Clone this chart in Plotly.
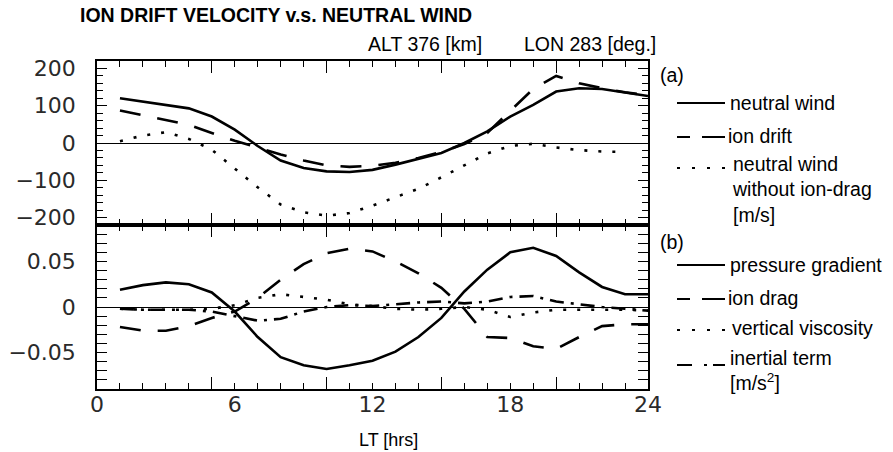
import plotly.graph_objects as go

# ---------------- data ----------------
lt_hours = list(range(1, 25))
lt_hours_nodrag = list(range(1, 24))

neutral_wind = [120, 111, 104, 93, 71, 36, -8, -47, -67, -76, -78, -72, -58, -43, -27, 0, 31, 71, 102, 138, 147, 145, 135, 126]
ion_drift = [87, 75, 62, 49, 27, 6, -12, -31, -47, -60, -64, -61, -53, -40, -24, -3, 27, 85, 145, 180, 160, 147, 136, 128]
wind_no_drag = [5, 20, 29, 11, -18, -69, -119, -165, -186, -195, -188, -168, -145, -123, -92, -60, -28, -8, -2, -12, -19, -23, -24]

pressure_gradient = [0.019, 0.024, 0.027, 0.025, 0.016, -0.005, -0.033, -0.055, -0.064, -0.068, -0.064, -0.059, -0.049, -0.033, -0.012, 0.017, 0.041, 0.060, 0.065, 0.056, 0.038, 0.022, 0.014, 0.014]
ion_drag = [-0.022, -0.026, -0.026, -0.021, -0.012, -0.005, 0.010, 0.030, 0.047, 0.059, 0.064, 0.061, 0.050, 0.037, 0.021, -0.002, -0.033, -0.034, -0.043, -0.046, -0.033, -0.021, -0.019, -0.019]
vertical_viscosity = [-0.002, -0.003, -0.003, -0.003, -0.002, 0.002, 0.010, 0.014, 0.011, 0.008, 0.003, 0.001, -0.002, -0.003, -0.002, 0.000, -0.003, -0.011, -0.006, -0.003, -0.003, -0.003, -0.003, -0.004]
inertial_term = [-0.002, -0.003, -0.003, -0.003, -0.005, -0.010, -0.015, -0.013, -0.005, 0.000, 0.002, 0.001, 0.003, 0.005, 0.006, 0.004, 0.006, 0.011, 0.012, 0.006, 0.003, 0.000, -0.002, -0.004]

x_tick_vals = [0, 6, 12, 18, 24]
x_tick_text = ["0", "6", "12", "18", "24"]
x_long_ticks = [5, 10, 15, 20]

title_text = "ION DRIFT VELOCITY v.s. NEUTRAL WIND"
alt_text = "ALT 376 [km]"
lon_text = "LON 283 [deg.]"
x_title = "LT [hrs]"

# ---------------- layout geometry ----------------
W, H = 893, 452
PL, PR, PT, PB = 97, 648, 61, 389


def px(x):
    return (x - PL) / (PR - PL)


def py(y):
    return (PB - y) / (PB - PT)


SOLID = "solid"
DASH = "21px,17px"
DOT = "3px,11px"
DASHDOT = "14px,7px,3px,7px"
LW = 2.6

fig = go.Figure()


def add(x, y, dash, xa, ya):
    fig.add_trace(go.Scatter(x=x, y=y, mode="lines", xaxis=xa, yaxis=ya,
                             line=dict(color="black", width=LW, dash=dash),
                             showlegend=False, hoverinfo="skip"))


add(lt_hours, neutral_wind, SOLID, "x", "y")
add(lt_hours, ion_drift, DASH, "x", "y")
add(lt_hours_nodrag, wind_no_drag, DOT, "x", "y")

add(lt_hours, pressure_gradient, SOLID, "x2", "y2")
add(lt_hours, ion_drag, DASH, "x2", "y2")
add(lt_hours, vertical_viscosity, DOT, "x2", "y2")
add(lt_hours, inertial_term, DASHDOT, "x2", "y2")

# invisible trace that hosts the tick-label axis of the lower panel
fig.add_trace(go.Scatter(x=[None], y=[None], xaxis="x3", yaxis="y2", showlegend=False, hoverinfo="skip"))

tickfont = dict(family="DejaVu Sans", size=22, color="#2a2a2a")

minor_x = dict(tick0=0, dtick=1, ticklen=6, tickwidth=1.2, tickcolor="black", ticks="inside")
xcommon = dict(range=[0, 24], showgrid=False, zeroline=False, showline=True, linecolor="black",
               linewidth=1.5, mirror="allticks", ticks="inside", tickvals=x_long_ticks,
               ticklen=12, tickwidth=1.2, tickcolor="black", showticklabels=False,
               minor=minor_x)

fig.update_layout(
    template="none",
    width=W, height=H,
    margin=dict(l=PL, r=W - PR, t=PT, b=H - PB, pad=0),
    paper_bgcolor="white", plot_bgcolor="white",
    showlegend=False,
    xaxis=dict(domain=[0, 1], anchor="y", **xcommon),
    xaxis2=dict(domain=[0, 1], anchor="y2", **xcommon),
    xaxis3=dict(domain=[0, 1], anchor="y2", overlaying="x2", range=[0, 24], showgrid=False,
                zeroline=False, showline=False, ticks="", tickvals=x_tick_vals,
                ticktext=x_tick_text, tickfont=tickfont, side="bottom"),
    yaxis=dict(domain=[0.5, 1], anchor="x", range=[-220, 220], showgrid=False,
               zeroline=True, zerolinecolor="black", zerolinewidth=1,
               showline=True, linecolor="black", linewidth=1.5, mirror="allticks",
               ticks="inside", dtick=100, ticklen=10,
               tickwidth=1.2, tickcolor="black", tickfont=tickfont, ticklabelstandoff=15,
               minor=dict(dtick=20, ticklen=6, tickwidth=1.2, tickcolor="black", ticks="inside")),
    yaxis2=dict(domain=[0, 0.5], anchor="x2", range=[-0.09, 0.09], showgrid=False,
                zeroline=True, zerolinecolor="black", zerolinewidth=1,
                showline=True, linecolor="black", linewidth=1.5, mirror="allticks",
                ticks="inside", dtick=0.05, ticklen=10,
                tickwidth=1.2, tickcolor="black", tickfont=tickfont, ticklabelstandoff=15,
                minor=dict(dtick=0.01, ticklen=6, tickwidth=1.2, tickcolor="black", ticks="inside")),
)

textfont = dict(family="Liberation Sans", size=19.5, color="black")
shapes = []
annotations = []


def legend_line(x0, x1, y, dash):
    shapes.append(dict(type="line", xref="paper", yref="paper", x0=px(x0), x1=px(x1),
                       y0=py(y), y1=py(y), line=dict(color="black", width=2.2, dash=dash)))


def label(x, y, text, font=textfont, xanchor="left"):
    annotations.append(dict(xref="paper", yref="paper", x=px(x), y=py(y), text=text,
                            showarrow=False, xanchor=xanchor, yanchor="middle", font=font,
                            align="left"))


label(78, 15, "<b>" + title_text + "</b>", dict(family="Liberation Sans", size=19.5, color="black"))
label(366, 44, alt_text, dict(family="Liberation Sans", size=19.5, color="black"))
label(658, 44, lon_text, dict(family="Liberation Sans", size=19.5, color="black"), xanchor="right")
label(388, 440, x_title, dict(family="Liberation Sans", size=18, color="black"), xanchor="center")

label(658, 75, "(a)")
legend_line(677, 725, 103, SOLID)
label(728, 103, "neutral wind")
legend_line(677, 725, 137, "13px,12px,23px,50px")
label(726, 136, "ion drift")
legend_line(677, 725, 168, "3px,12px")
label(730, 189, "neutral wind<br>without ion-drag<br>[m/s]")

label(658, 242, "(b)")
legend_line(677, 725, 265, SOLID)
label(728, 265, "pressure gradient")
legend_line(677, 725, 299, "13px,12px,23px,50px")
label(726, 298, "ion drag")
legend_line(677, 725, 330, "3px,12px")
label(730, 328, "vertical viscosity")
legend_line(677, 725, 365, "15px,12px,3px,6px,14px,50px")
label(728, 370, "inertial term<br>[m/s<sup>2</sup>]")

fig.update_layout(shapes=shapes, annotations=annotations)

fig.write_html("out.html", config={"displayModeBar": False},
               post_script="document.body.style.margin='0px';document.body.style.padding='0px';")
